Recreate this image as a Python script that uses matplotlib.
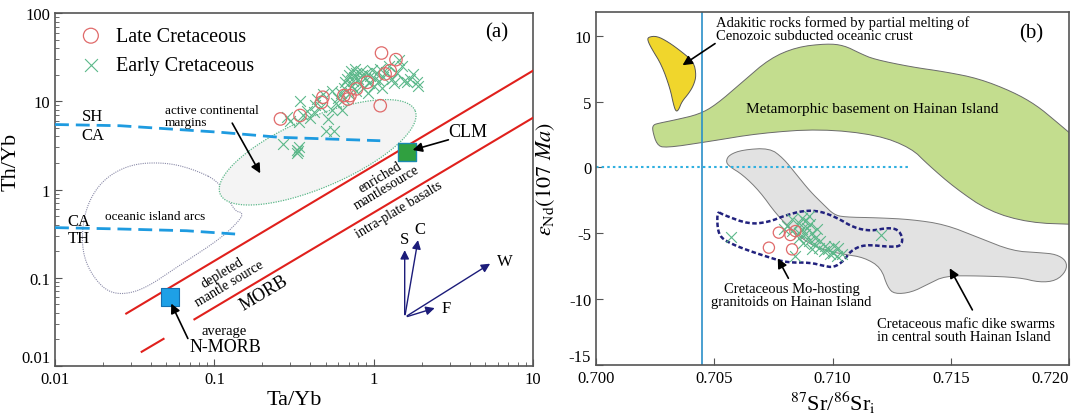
import numpy as np
import matplotlib.pyplot as plt

plt.rcParams['font.family'] = ['Liberation Serif', 'DejaVu Serif']
plt.rcParams['mathtext.fontset'] = 'stix'
plt.rcParams['axes.unicode_minus'] = False

# ---------------- panel (a): Th/Yb vs Ta/Yb ----------------
late_ta = [0.26, 0.345, 0.47, 0.48, 0.65, 0.69, 0.71, 0.78, 0.91, 1.12, 1.10, 1.18, 1.27, 1.38]
late_th = [6.3, 6.9, 9.7, 11.1, 11.6, 10.6, 11.6, 13.8, 16.4, 35.2, 8.9, 20.4, 22.2, 29.6]

early_ta = [0.27, 0.285, 0.30, 0.33, 0.33, 0.34, 0.335, 0.34, 0.345, 0.36, 0.38, 0.40,
            0.42, 0.43, 0.44, 0.47, 0.50, 0.52, 0.55, 0.56, 0.55, 0.58, 0.60, 0.62,
            0.63, 0.65, 0.66, 0.68, 0.70, 0.70, 0.72, 0.73, 0.74, 0.75, 0.76, 0.78,
            0.78, 0.80, 0.82, 0.83, 0.85, 0.86, 0.88, 0.90, 0.92, 0.93, 0.95, 0.97,
            1.00, 1.02, 1.05, 1.08, 1.10, 1.12, 1.15, 1.20, 1.25, 1.30, 1.35, 1.40,
            1.45, 1.50, 1.55, 1.61, 1.70, 1.77, 1.86, 1.90, 0.65, 0.48]
early_th = [3.3, 6.6, 5.9, 2.6, 2.8, 3.0, 2.7, 5.8, 10.0, 7.0, 7.8, 6.5,
            7.5, 9.0, 10.6, 8.5, 4.6, 6.3, 8.0, 4.6, 13.0, 9.5, 11.0, 12.5,
            8.0, 14.0, 16.5, 18.0, 20.0, 12.0, 22.0, 15.0, 17.0, 19.0, 23.0, 21.0,
            13.0, 18.0, 16.0, 22.0, 20.0, 14.0, 18.5, 21.0, 12.5, 16.0, 19.5, 22.5,
            15.0, 18.0, 21.0, 17.0, 23.0, 14.0, 19.0, 21.5, 25.0, 18.0, 16.0, 21.0,
            29.0, 25.0, 17.0, 16.4, 18.0, 20.4, 16.4, 15.0, 10.5, 12.0]

# mantle array boundaries
upper_ta = [0.028, 10]
upper_th = [0.0393, 22.2]
lower_ta = [0.075, 10]
lower_th = [0.0338, 6.5]
short_ta = [0.035, 0.048]
short_th = [0.0145, 0.0203]

# SH/CA and CA/TH dividers
shca_ta = [0.01, 0.0256, 0.109, 0.258, 1.10]
shca_th = [5.45, 5.28, 4.45, 3.9, 3.57]
cath_ta = [0.01, 0.0256, 0.067, 0.135]
cath_th = [0.37, 0.357, 0.341, 0.313]

# oceanic island arcs outline
oia_ta = [0.109, 0.0733, 0.0492, 0.030, 0.020, 0.0157, 0.0146, 0.0157, 0.020,
          0.0258, 0.0365, 0.060, 0.109, 0.147, 0.15, 0.133]
oia_th = [1.22, 1.71, 2.03, 1.95, 1.31, 0.656, 0.275, 0.137, 0.0746,
          0.0638, 0.0746, 0.137, 0.275, 0.463, 0.551, 0.57]

# active continental margins (ellipse centre)
acm_center = (0.445, 2.64)

nmorb = (0.053, 0.060)
clm = (1.61, 2.68)

# S, C, W, F vectors
vec_origin = (1.566, 0.0356)
vec_names = ['S', 'C', 'W', 'F']
vec_tips = [(1.566, 0.221), (1.91, 0.287), (5.57, 0.150), (2.51, 0.0463)]

# ---------------- panel (b): eNd vs 87Sr/86Sr ----------------
late_sr = [0.70773, 0.70822, 0.70843, 0.70731, 0.70829]
late_nd = [-4.95, -5.13, -4.83, -6.09, -6.22]

early_sr = [0.70570, 0.70808, 0.70829, 0.70857, 0.70871, 0.70885, 0.70899, 0.70906,
            0.70871, 0.70885, 0.70857, 0.70913, 0.70927, 0.70899, 0.70920, 0.70941,
            0.70913, 0.70962, 0.70983, 0.71004, 0.71025, 0.71039, 0.70843, 0.70794,
            0.70829, 0.70892, 0.70934, 0.70857, 0.70948, 0.70969, 0.70874, 0.70990,
            0.71205, 0.71005, 0.71019]
early_nd = [-5.28, -4.45, -4.83, -4.20, -3.82, -4.07, -3.69, -4.33,
            -4.70, -5.08, -5.33, -4.95, -5.33, -5.58, -5.84, -6.09,
            -6.22, -6.34, -6.22, -6.47, -6.09, -6.59, -6.72, -4.70,
            -3.95, -4.58, -4.70, -4.95, -5.58, -5.96, -5.71, -6.59,
            -5.13, -5.96, -6.72]

adakite_sr = [0.70221, 0.70257, 0.70306, 0.70363, 0.70413, 0.70424, 0.70413, 0.70392,
              0.70363, 0.70349, 0.70338, 0.70328, 0.70313, 0.70278, 0.70235, 0.70218]
adakite_nd = [9.90, 9.98, 9.52, 8.77, 8.01, 7.00, 6.25, 5.62,
              5.00, 4.36, 4.24, 4.74, 6.00, 7.76, 9.02, 9.65]

basement_sr = [0.70238, 0.70242, 0.70264, 0.70335, 0.70435, 0.70506, 0.70620, 0.70734,
               0.70848, 0.70976, 0.71048, 0.71119, 0.71176, 0.71333, 0.71476, 0.71618,
               0.71761, 0.71861, 0.71946, 0.72030, 0.72060, 0.72060, 0.72030, 0.71832,
               0.71661, 0.71518, 0.71404, 0.71333, 0.71190, 0.70948, 0.70692, 0.70478,
               0.70292, 0.70257]
basement_nd = [2.85, 3.23, 3.35, 3.61, 4.03, 4.74, 6.50, 8.26,
               9.14, 9.40, 9.27, 8.64, 8.21, 7.63, 7.26, 6.75,
               5.75, 4.74, 3.48, 2.20, 1.5, -4.33, -4.33, -4.20,
               -3.32, -1.56, 0.21, 1.47, 2.47, 2.93, 2.60, 1.97,
               1.47, 1.72]

dike_sr = [0.70549, 0.70563, 0.70620, 0.70734, 0.70791, 0.70848, 0.70905, 0.70962,
           0.71005, 0.71048, 0.71190, 0.71333, 0.71476, 0.71618, 0.71761, 0.71875,
           0.71946, 0.71989, 0.71989, 0.71946, 0.71875, 0.71789, 0.71618, 0.71476,
           0.71404, 0.71333, 0.71262, 0.71233, 0.71205, 0.71134, 0.71048, 0.70976,
           0.70905, 0.70834, 0.70763, 0.70692, 0.70620, 0.70563]
dike_nd = [0.46, 0.96, 1.34, 1.47, 0.71, -0.55, -1.81, -2.82,
           -3.57, -3.77, -3.82, -3.95, -4.33, -5.33, -6.34, -6.47,
           -6.59, -7.09, -7.85, -8.60, -8.73, -8.35, -8.23, -8.23,
           -8.86, -9.49, -9.61, -9.11, -7.60, -6.84, -6.59, -6.34,
           -5.84, -4.83, -3.57, -1.81, -0.55, 0.08]

mo_sr = [0.70513, 0.70534, 0.70649, 0.70734, 0.70791, 0.70877, 0.70948, 0.71019,
         0.71091, 0.71162, 0.71233, 0.71276, 0.71297, 0.71290, 0.71247, 0.71134,
         0.71076, 0.71048, 0.71005, 0.70962, 0.70905, 0.70805, 0.70734, 0.70649,
         0.70577, 0.70527, 0.70513]
mo_nd = [-3.32, -3.57, -4.33, -4.12, -3.70, -3.27, -3.32, -3.82,
         -4.58, -4.83, -4.58, -4.70, -5.33, -5.96, -6.04, -5.84,
         -6.34, -7.09, -7.60, -7.47, -7.22, -7.22, -6.84, -6.34,
         -5.84, -5.33, -4.58]

sr_divider = 0.70449
nd_zero_end = 0.71333


def chaikin(xs, ys, n=3, logscale=False):
    """Smooth a closed outline by corner cutting."""
    x = np.log10(xs) if logscale else np.asarray(xs, float)
    y = np.log10(ys) if logscale else np.asarray(ys, float)
    for _ in range(n):
        xn, yn = np.roll(x, -1), np.roll(y, -1)
        x = np.column_stack([0.75 * x + 0.25 * xn, 0.25 * x + 0.75 * xn]).ravel()
        y = np.column_stack([0.75 * y + 0.25 * yn, 0.25 * y + 0.75 * yn]).ravel()
    x, y = np.append(x, x[0]), np.append(y, y[0])
    if logscale:
        return 10 ** x, 10 ** y
    return x, y


fig = plt.figure(figsize=(10.72, 4.14), dpi=100)
ax = fig.add_axes([0.0513, 0.1135, 0.4459, 0.8527])
bx = fig.add_axes([0.556, 0.1159, 0.4412, 0.8527])

red = '#e0201c'
cyan = '#1e9be0'
navy = '#1c1c7a'
circ_col = '#e06a6a'
cross_col = '#5cb88a'

# ---- (a) ----
ax.set_xscale('log')
ax.set_yscale('log')
ax.set_xlim(0.01, 10)
ax.set_ylim(0.01, 100)

ox, oy = chaikin(oia_ta, oia_th, 3, logscale=True)
ax.plot(ox, oy, color='#8a8aa8', lw=0.8, ls=(0, (1, 1)), zorder=1)

t = np.linspace(0, 2 * np.pi, 200)
ang = np.radians(23.2)
px = 106 * np.cos(t) * np.cos(ang) - 35 * np.sin(t) * np.sin(ang)
py = 106 * np.cos(t) * np.sin(ang) + 35 * np.sin(t) * np.cos(ang)
ex = acm_center[0] * 10 ** (px / 159.3)
ey = acm_center[1] * 10 ** (py / 88.25)
ax.fill(ex, ey, facecolor='#f4f4f4', edgecolor='none', zorder=2)
ax.plot(ex, ey, color=cross_col, lw=0.9, ls=(0, (1, 1)), zorder=2)

ax.plot(upper_ta, upper_th, color=red, lw=1.5, zorder=3)
ax.plot(lower_ta, lower_th, color=red, lw=1.5, zorder=3)
ax.plot(short_ta, short_th, color=red, lw=1.5, zorder=3)
ax.plot(shca_ta, shca_th, color=cyan, lw=2, ls=(0, (5, 2.5)), zorder=3)
ax.plot(cath_ta, cath_th, color=cyan, lw=2, ls=(0, (5, 2.5)), zorder=3)

ax.scatter(early_ta, early_th, marker='x', s=60, color=cross_col, lw=0.8,
           zorder=4, label='Early Cretaceous')
ax.scatter(late_ta, late_th, marker='o', s=80, facecolor='none',
           edgecolor=circ_col, lw=0.9, zorder=5, label='Late Cretaceous')

ax.scatter([nmorb[0]], [nmorb[1]], marker='s', s=170, color='#1ea0e6',
           edgecolor='#1470b0', lw=0.8, zorder=6)
ax.scatter([clm[0]], [clm[1]], marker='s', s=170, color='#30a040',
           edgecolor='#1a8ab0', lw=1.0, zorder=6)

arrow_k = dict(arrowstyle='-|>', color='k', lw=1.2, mutation_scale=14)
ax.annotate('', xy=(0.198, 1.43), xytext=(0.127, 6.02), arrowprops=arrow_k, zorder=7)
ax.annotate('', xy=(1.69, 2.75), xytext=(3.06, 3.73), arrowprops=arrow_k, zorder=7)
ax.annotate('', xy=(0.0527, 0.0545), xytext=(0.0694, 0.0192), arrowprops=arrow_k, zorder=7)

for name, tip in zip(vec_names, vec_tips):
    ax.annotate('', xy=tip, xytext=vec_origin,
                arrowprops=dict(arrowstyle='-|>', color=navy, lw=1.0, mutation_scale=13))
ax.text(1.566, 0.225, 'S', ha='center', va='bottom', fontsize=12)
ax.text(1.95, 0.29, 'C', ha='center', va='bottom', fontsize=12)
ax.text(5.9, 0.155, 'W', ha='left', va='center', fontsize=12)
ax.text(2.65, 0.0455, 'F', ha='left', va='center', fontsize=12)

ax.text(0.0173, 6.87, 'SH', ha='center', va='center', fontsize=12)
ax.text(0.0173, 4.15, 'CA', ha='center', va='center', fontsize=12)
ax.text(0.0141, 0.44, 'CA', ha='center', va='center', fontsize=12)
ax.text(0.0141, 0.28, 'TH', ha='center', va='center', fontsize=12)

ax.text(0.049, 6.8, 'active continental\nmargins', ha='left', va='center',
        fontsize=9.5, linespacing=1.1)
ax.text(0.0425, 0.50, 'oceanic island arcs', ha='center', va='center', fontsize=9.5)
ax.text(2.93, 4.6, 'CLM', ha='left', va='center', fontsize=13)
ax.text(0.118, 0.100, 'depleted\nmantle source', ha='center', va='center',
        rotation=31, rotation_mode='anchor', fontsize=10, linespacing=1.0)
ax.text(0.205, 0.068, 'MORB', ha='center', va='center', rotation=31,
        rotation_mode='anchor', fontsize=13)
ax.text(1.15, 1.22, 'enriched\nmantlesource', ha='center', va='center',
        rotation=31, rotation_mode='anchor', fontsize=10, linespacing=1.0)
ax.text(1.44, 0.60, 'intra-plate basalts', ha='center', va='center',
        rotation=31, rotation_mode='anchor', fontsize=10)
ax.text(0.115, 0.025, 'average', ha='center', va='center', fontsize=10.5)
ax.text(0.117, 0.0168, 'N-MORB', ha='center', va='center', fontsize=13)
ax.text(0.923, 0.946, '(a)', transform=ax.transAxes, ha='center', va='center', fontsize=15)

handles, labels = ax.get_legend_handles_labels()
ax.legend(handles[::-1], labels[::-1], loc='upper left', bbox_to_anchor=(-0.005, 1.012),
          frameon=False, fontsize=14.5, labelspacing=0.5, handletextpad=0.25,
          scatterpoints=1, markerscale=1.2)

ax.set_xticks([0.01, 0.1, 1, 10])
ax.set_xticklabels(['0.01', '0.1', '1', '10'])
ax.set_yticks([0.01, 0.1, 1, 10, 100])
ax.set_yticklabels(['0.01', '0.1', '1', '10', '100'])
ax.get_yticklabels()[0].set_va('bottom')
ax.set_xlabel('Ta/Yb', fontsize=16, labelpad=2)
ax.set_ylabel('Th/Yb', fontsize=16)
ax.yaxis.set_label_coords(-0.071, 0.58)

# ---- (b) ----
bx.set_xlim(0.700, 0.720)
bx.set_ylim(-15, 11.8)

gx, gy = chaikin(basement_sr, basement_nd, 2)
bx.fill(gx, gy, facecolor='#c3dd8e', edgecolor='#6a6a6a', lw=0.7, zorder=1)
yx, yy = chaikin(adakite_sr, adakite_nd, 2)
bx.fill(yx, yy, facecolor='#f0d62c', edgecolor='#555555', lw=0.7, zorder=1)
dx, dy = chaikin(dike_sr, dike_nd, 2)
bx.fill(dx, dy, facecolor='#e2e2e2', edgecolor='#7a7a7a', lw=0.7, zorder=1)

bx.axvline(sr_divider, color='#2a8fc8', lw=1.2, zorder=2)
bx.plot([0.700, nd_zero_end], [0, 0], color='#30b0e0', lw=1.5,
        ls=(0, (1.2, 1.5)), zorder=2)

mx, my = chaikin(mo_sr, mo_nd, 2)
bx.plot(mx, my, color='#22227e', lw=1.8, ls=(0, (1.8, 1.0)), zorder=3)

bx.scatter(early_sr, early_nd, marker='x', s=60, color=cross_col, lw=0.8, zorder=4)
bx.scatter(late_sr, late_nd, marker='o', s=65, facecolor='none',
           edgecolor=circ_col, lw=0.9, zorder=5)

bx.annotate('', xy=(0.70356, 7.64), xytext=(0.70513, 9.52), arrowprops=arrow_k, zorder=6)
bx.annotate('', xy=(0.70763, -6.72), xytext=(0.70819, -8.60), arrowprops=arrow_k, zorder=6)
bx.annotate('', xy=(0.71490, -7.47), xytext=(0.71597, -11.0), arrowprops=arrow_k, zorder=6)

bx.text(0.70508, 10.55, 'Adakitic rocks formed by partial melting of\nCenozoic subducted oceanic crust',
        ha='left', va='center', fontsize=10.5, linespacing=1.05)
bx.text(0.71169, 4.49, 'Metamorphic basement on Hainan Island', ha='center', va='center',
        fontsize=11)
bx.text(0.70827, -9.69, 'Cretaceous Mo-hosting\ngranitoids on Hainan Island', ha='center',
        va='center', fontsize=10.5, linespacing=1.05)
bx.text(0.71186, -12.36, 'Cretaceous mafic dike swarms\nin central south Hainan Island',
        ha='left', va='center', fontsize=10.5, linespacing=1.05)
bx.text(0.92, 0.94, '(b)', transform=bx.transAxes, ha='center', va='center', fontsize=15)

bx.set_xticks([0.700, 0.705, 0.710, 0.715, 0.720])
bx.set_xticklabels(['0.700', '0.705', '0.710', '0.715', '0.720'])
bx.get_xticklabels()[-1].set_ha('right')
bx.set_yticks([-15, -10, -5, 0, 5, 10])
bx.set_yticklabels(['-15', '-10', '-5', '0', '5', '10'])
bx.get_yticklabels()[0].set_va('bottom')
bx.set_xlabel(r'$^{87}$Sr/$^{86}$Sr$_{\rm i}$', fontsize=16, labelpad=2)
bx.set_ylabel(r'$\varepsilon_{\rm Nd}(\mathit{107\ Ma})$', fontsize=16)
bx.yaxis.set_label_coords(-0.082, 0.53)

for a in (ax, bx):
    for s in a.spines.values():
        s.set_color('#555555')
        s.set_linewidth(1.2)
    a.tick_params(which='both', direction='in', top=False, right=False,
                  labelsize=12, color='#555555')
    a.tick_params(which='major', length=5)
    a.tick_params(which='minor', length=3)

fig.savefig('out.png', dpi=100)
